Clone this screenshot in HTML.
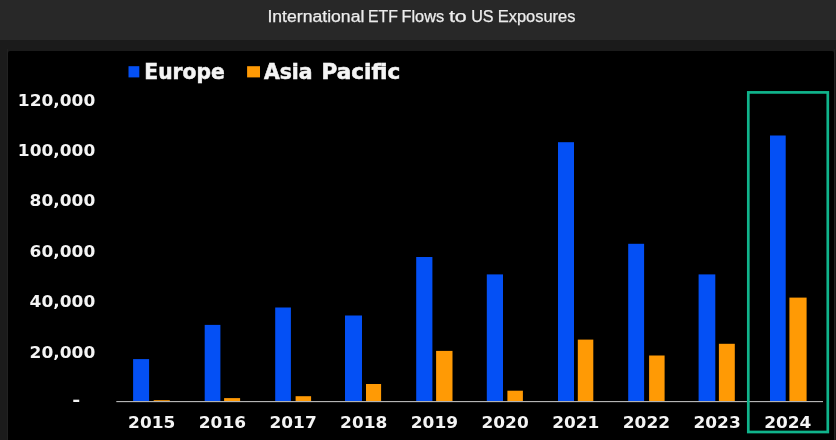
<!DOCTYPE html>
<html><head><meta charset="utf-8"><title>International ETF Flows to US Exposures</title>
<style>
html,body{margin:0;padding:0;}
body{width:836px;height:440px;overflow:hidden;background:#1b1b1b;position:relative;font-family:"Liberation Sans",sans-serif;}
.titlebar{position:absolute;left:0;top:0;width:836px;height:40px;background:#282828;}
.chart{position:absolute;left:8px;top:51px;width:826px;height:389px;background:#000;border-radius:2px 2px 0 0;}
.edge{position:absolute;top:49px;width:1px;height:391px;background:#222222;}
.edge2{position:absolute;left:835px;top:50px;width:1px;height:390px;background:#161616;}
svg{position:absolute;left:0;top:0;}
svg text{font-family:"DejaVu Sans","Liberation Sans",sans-serif;font-weight:bold;fill:#f4f4f4;}
svg .tt text{font-family:"Liberation Sans",sans-serif;font-weight:normal;font-size:15.6px;fill:#ececec;stroke:#ececec;stroke-width:0.25px;}
.xl{font-size:15.3px;}
.yl{font-size:15.3px;}
.lg{font-size:20.4px;stroke:#f4f4f4;stroke-width:0.55px;}
</style></head><body>
<div class="titlebar"></div>
<div class="edge" style="left:7px"></div><div class="edge" style="left:834px"></div><div class="edge2"></div>
<div class="chart"></div>
<svg width="836" height="440" viewBox="0 0 836 440">
<g class="tt"><text y="21.8"><tspan x="267.4" textLength="97.0" lengthAdjust="spacingAndGlyphs">International</tspan> <tspan x="368.1" textLength="29.8" lengthAdjust="spacingAndGlyphs">ETF</tspan> <tspan x="401.4" textLength="42.8" lengthAdjust="spacingAndGlyphs">Flows</tspan> <tspan x="448.9" textLength="17.9" lengthAdjust="spacingAndGlyphs">to</tspan> <tspan x="471.2" textLength="22.4" lengthAdjust="spacingAndGlyphs">US</tspan> <tspan x="497.7" textLength="77.8" lengthAdjust="spacingAndGlyphs">Exposures</tspan></text></g>
<rect x="128.5" y="66.2" width="10.8" height="11.2" fill="#0450f5"/>
<text class="lg" x="144.3" y="79.3" textLength="80.4" lengthAdjust="spacingAndGlyphs">Europe</text>
<rect x="247.1" y="66.2" width="12.9" height="11.2" fill="#ff9a05"/>
<text class="lg" y="79.3"><tspan x="263.9" textLength="48.6" lengthAdjust="spacingAndGlyphs">Asia</tspan> <tspan x="321.6" textLength="78.6" lengthAdjust="spacingAndGlyphs">Pacific</tspan></text>
<text class="yl" x="72.2" y="405" textLength="8" lengthAdjust="spacingAndGlyphs">-</text>
<rect x="133.1" y="359.1" width="16.0" height="42.5" fill="#0450f5"/>
<rect x="153.7" y="400.2" width="16.1" height="1.4" fill="#ff9a05"/>
<text class="xl" x="151.7" y="427.8" text-anchor="middle" textLength="47.2" lengthAdjust="spacingAndGlyphs">2015</text>
<rect x="204.7" y="324.9" width="15.7" height="76.7" fill="#0450f5"/>
<rect x="224.1" y="398.1" width="16.0" height="3.5" fill="#ff9a05"/>
<text class="xl" x="222.4" y="427.8" text-anchor="middle" textLength="47.2" lengthAdjust="spacingAndGlyphs">2016</text>
<rect x="275.2" y="307.5" width="15.7" height="94.1" fill="#0450f5"/>
<rect x="295.6" y="396.2" width="15.5" height="5.4" fill="#ff9a05"/>
<text class="xl" x="293.1" y="427.8" text-anchor="middle" textLength="47.2" lengthAdjust="spacingAndGlyphs">2017</text>
<rect x="345.0" y="315.5" width="17.0" height="86.1" fill="#0450f5"/>
<rect x="366.0" y="384.0" width="15.1" height="17.6" fill="#ff9a05"/>
<text class="xl" x="363.7" y="427.8" text-anchor="middle" textLength="47.2" lengthAdjust="spacingAndGlyphs">2018</text>
<rect x="416.2" y="257.0" width="16.2" height="144.6" fill="#0450f5"/>
<rect x="436.1" y="350.9" width="16.4" height="50.7" fill="#ff9a05"/>
<text class="xl" x="434.4" y="427.8" text-anchor="middle" textLength="47.2" lengthAdjust="spacingAndGlyphs">2019</text>
<rect x="486.8" y="274.4" width="16.2" height="127.2" fill="#0450f5"/>
<rect x="507.4" y="390.7" width="15.5" height="10.9" fill="#ff9a05"/>
<text class="xl" x="505.1" y="427.8" text-anchor="middle" textLength="47.2" lengthAdjust="spacingAndGlyphs">2020</text>
<rect x="558.0" y="142.2" width="16.0" height="259.4" fill="#0450f5"/>
<rect x="577.8" y="339.6" width="15.5" height="62.0" fill="#ff9a05"/>
<text class="xl" x="575.8" y="427.8" text-anchor="middle" textLength="47.2" lengthAdjust="spacingAndGlyphs">2021</text>
<rect x="628.2" y="243.8" width="15.9" height="157.8" fill="#0450f5"/>
<rect x="649.1" y="355.5" width="15.5" height="46.1" fill="#ff9a05"/>
<text class="xl" x="646.4" y="427.8" text-anchor="middle" textLength="47.2" lengthAdjust="spacingAndGlyphs">2022</text>
<rect x="698.6" y="274.4" width="16.7" height="127.2" fill="#0450f5"/>
<rect x="718.9" y="343.8" width="15.9" height="57.8" fill="#ff9a05"/>
<text class="xl" x="717.1" y="427.8" text-anchor="middle" textLength="47.2" lengthAdjust="spacingAndGlyphs">2023</text>
<rect x="770.0" y="135.5" width="15.7" height="266.1" fill="#0450f5"/>
<rect x="789.4" y="297.6" width="17.2" height="104.0" fill="#ff9a05"/>
<text class="xl" x="787.8" y="427.8" text-anchor="middle" textLength="47.2" lengthAdjust="spacingAndGlyphs">2024</text>
<text class="yl" x="95.3" y="106" text-anchor="end" textLength="77.5" lengthAdjust="spacingAndGlyphs">120,000</text>
<text class="yl" x="95.3" y="156" text-anchor="end" textLength="77.5" lengthAdjust="spacingAndGlyphs">100,000</text>
<text class="yl" x="95.3" y="206" text-anchor="end" textLength="65.7" lengthAdjust="spacingAndGlyphs">80,000</text>
<text class="yl" x="95.3" y="257" text-anchor="end" textLength="65.7" lengthAdjust="spacingAndGlyphs">60,000</text>
<text class="yl" x="95.3" y="307" text-anchor="end" textLength="65.7" lengthAdjust="spacingAndGlyphs">40,000</text>
<text class="yl" x="95.3" y="358" text-anchor="end" textLength="65.7" lengthAdjust="spacingAndGlyphs">20,000</text>
<rect x="116.3" y="401.0" width="706.7" height="1.15" fill="#b4b4b4"/>
<rect x="748.3" y="92.4" width="79.5" height="339.6" fill="none" stroke="#10b48c" stroke-width="2.7"/>
</svg>
</body></html>
